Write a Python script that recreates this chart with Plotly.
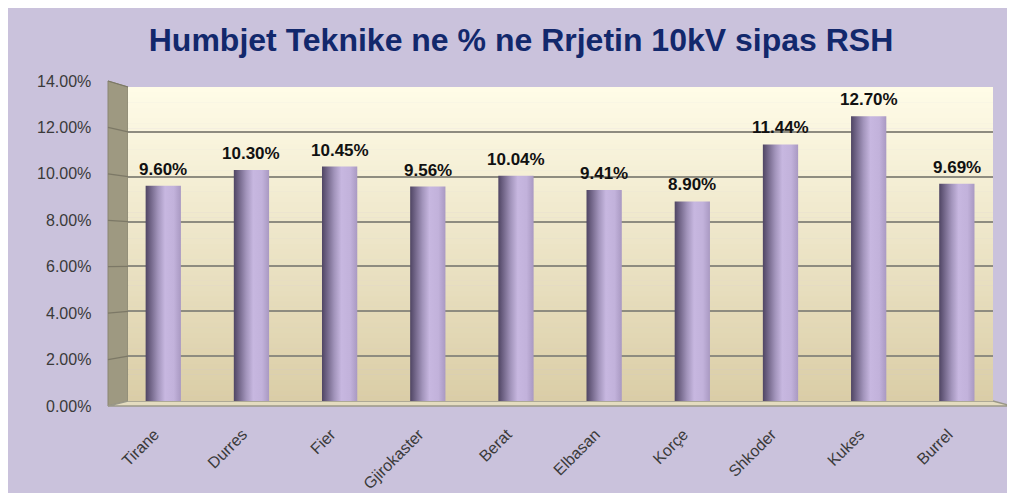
import plotly.graph_objects as go

# ---- data ----
categories = ["Tirane", "Durres", "Fier", "Gjirokaster", "Berat",
              "Elbasan", "Korçe", "Shkoder", "Kukes", "Burrel"]
values = [9.60, 10.30, 10.45, 9.56, 10.04, 9.41, 8.90, 11.44, 12.70, 9.69]
y_ticks = [0, 2, 4, 6, 8, 10, 12, 14]
title_text = "Humbjet Teknike ne % ne Rrjetin 10kV sipas RSH"

# ---- geometry (reference pixels; page body adds an 8px offset) ----
OFF = 8
W_FIG, H_FIG = 1015 - OFF, 493 - OFF
L, R, T, B = 128, 993, 87, 401          # back wall (plot area)
FRONT_L, FRONT_TOP, FRONT_BOT, FLOOR_R = 108, 81, 406, 1012
PW, PH = R - L, B - T
Y_MAX = 14
X_RANGE = [-0.4, 9.41]
HALF_W = 0.2

def px(x):
    return (x - L) / PW

def py(y):
    return (B - y) / PH

FONT = "Liberation Sans, Arial, sans-serif"
LAV = "#cac2dc"
GRID = "#8e8c80"

fig = go.Figure()

# cylinders (one filled trace per bar, horizontal gradient)
bar_scale = [[0.0, "#4f4563"], [0.12, "#6c6082"], [0.35, "#a294bb"],
             [0.55, "#c7b7e0"], [0.8, "#c2b2db"], [1.0, "#a999c2"]]
for i, v in enumerate(values):
    fig.add_trace(go.Scatter(
        x=[i - HALF_W, i + HALF_W, i + HALF_W, i - HALF_W, i - HALF_W],
        y=[0, 0, v, v, 0],
        mode="lines", fill="toself", line=dict(width=0),
        fillgradient=dict(type="horizontal", colorscale=bar_scale),
        hoverinfo="skip", showlegend=False))

shapes = []
# back wall gradient (strips)
top_c = (255, 252, 232)
bot_c = (218, 205, 166)
N = 60
for k in range(N):
    t = (k + 0.5) / N
    c = tuple(round(bot_c[j] + (top_c[j] - bot_c[j]) * t) for j in range(3))
    shapes.append(dict(type="rect", xref="x", yref="y",
                       x0=X_RANGE[0], x1=X_RANGE[1],
                       y0=Y_MAX * k / N, y1=Y_MAX * (k + 1) / N + 0.02,
                       fillcolor="rgb(%d,%d,%d)" % c, line=dict(width=0),
                       layer="below"))

# side wall
shapes.append(dict(type="path", xref="paper", yref="paper",
                   path=f"M {px(FRONT_L)} {py(FRONT_TOP)} L {px(L)} {py(T)} "
                        f"L {px(L)} {py(B)} L {px(FRONT_L)} {py(FRONT_BOT)} Z",
                   fillcolor="#9e9981", line=dict(color="#8a8672", width=1),
                   layer="below"))
# floor
shapes.append(dict(type="path", xref="paper", yref="paper",
                   path=f"M {px(FRONT_L)} {py(FRONT_BOT)} L {px(L)} {py(B)} "
                        f"L {px(R)} {py(B)} L {px(FLOOR_R)} {py(FRONT_BOT)} Z",
                   fillcolor="#e4dcc0", line=dict(color="#9a9888", width=1.5),
                   layer="below"))

annotations = []
for v in y_ticks:
    y_front = FRONT_BOT - v / Y_MAX * (FRONT_BOT - FRONT_TOP)
    y_back = B - v / Y_MAX * PH
    if 0 < v:
        shapes.append(dict(type="line", xref="paper", yref="paper",
                           x0=px(FRONT_L), y0=py(y_front), x1=px(L), y1=py(y_back),
                           line=dict(color="#7c7866", width=1.2), layer="below"))
    annotations.append(dict(xref="paper", yref="paper", x=px(93), y=py(y_front),
                            xanchor="right", yanchor="middle", showarrow=False,
                            text=f"{v:.2f}%",
                            font=dict(family=FONT, size=16, color="#3a3a3a")))

# data labels
for i, v in enumerate(values):
    annotations.append(dict(x=i, y=v, xref="x", yref="y", showarrow=False,
                            xanchor="center", yanchor="bottom", yshift=5,
                            text=f"{v:.2f}%",
                            font=dict(family=FONT, size=17, color="#111111",
                                      weight="bold")))

fig.update_layout(
    width=W_FIG, height=H_FIG,
    margin=dict(l=L - OFF, r=W_FIG - (R - OFF), t=T - OFF, b=H_FIG - (B - OFF), pad=0,
                autoexpand=False),
    paper_bgcolor=LAV, plot_bgcolor="rgba(0,0,0,0)",
    shapes=shapes, annotations=annotations,
    title=dict(text=title_text, x=(521 - OFF) / W_FIG, xref="container",
               xanchor="center",
               y=1 - (40 - OFF) / H_FIG, yref="container", yanchor="middle",
               font=dict(family=FONT, size=32, color="#12286c", weight="bold")),
    xaxis=dict(range=X_RANGE, tickmode="array",
               tickvals=[i - 0.1 for i in range(len(categories))],
               ticktext=categories, automargin=False,
               tickangle=-45, showgrid=False, zeroline=False, showline=False,
               ticks="", ticklabelstandoff=20,
               tickfont=dict(family=FONT, size=16, color="#3a3a3a")),
    yaxis=dict(range=[0, Y_MAX], tickvals=y_ticks, showticklabels=False,
               automargin=False,
               showgrid=True, gridcolor=GRID, gridwidth=1.5,
               zeroline=False, showline=False, ticks=""),
    showlegend=False,
)

fig.write_html("out.html")
